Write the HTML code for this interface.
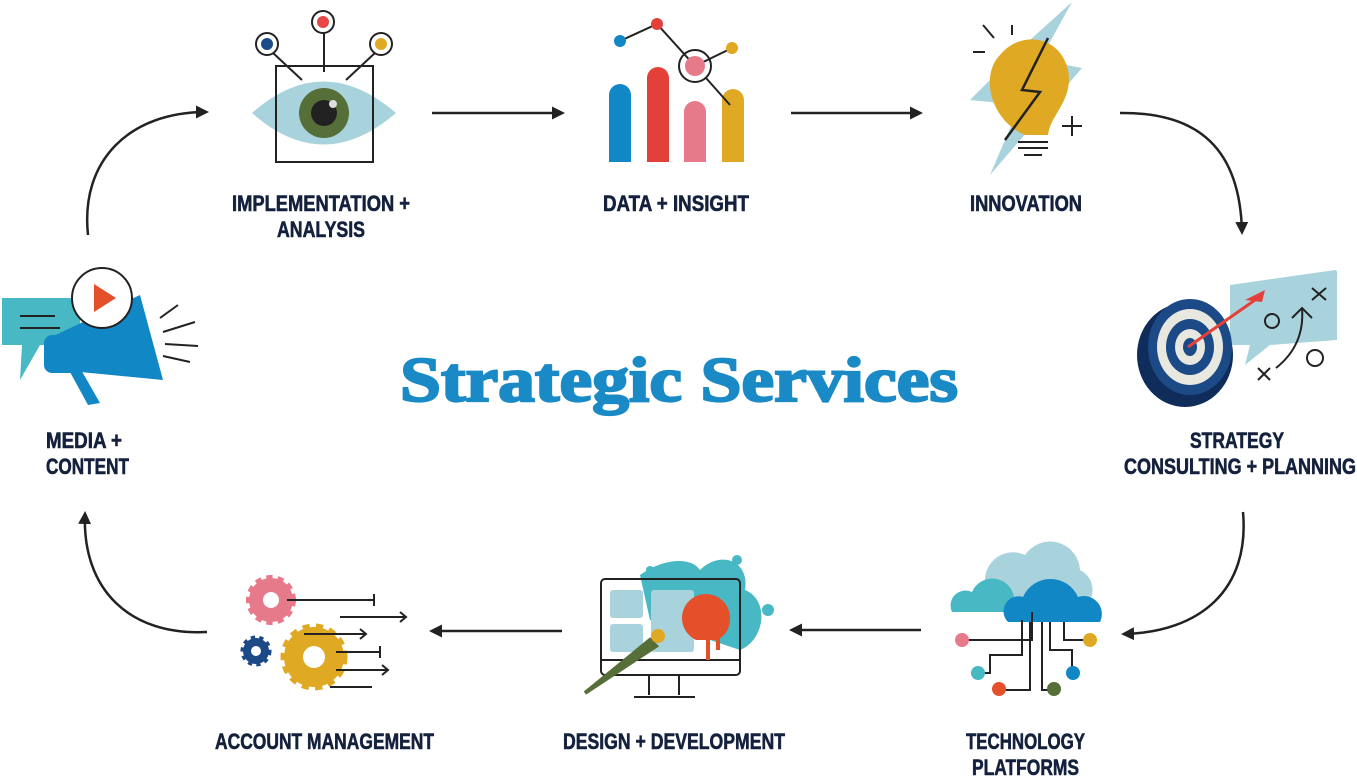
<!DOCTYPE html>
<html><head><meta charset="utf-8"><style>
html,body{margin:0;padding:0;background:#fff;width:1357px;height:783px;overflow:hidden}
.l{font-family:"Liberation Sans",sans-serif;font-weight:bold;font-size:22px;fill:#14213d;stroke:#14213d;stroke-width:0.6}
</style></head><body>
<svg width="1357" height="783" viewBox="0 0 1357 783" xmlns="http://www.w3.org/2000/svg">
<defs><marker id="a" markerWidth="13" markerHeight="13" refX="10" refY="6.5" orient="auto" markerUnits="userSpaceOnUse"><path d="M0,0 L13,6.5 L0,13 z" fill="#222"/></marker></defs>
<g stroke="#222" stroke-width="2.5" fill="none">
<path d="M88,235 C80,160 130,112 206,112" marker-end="url(#a)"/>
<path d="M432,113 L562,113" marker-end="url(#a)"/>
<path d="M791,113 L920,113" marker-end="url(#a)"/>
<path d="M1120,113 C1200,112 1240,150 1242,232" marker-end="url(#a)"/>
<path d="M1243,512 C1250,590 1200,632 1124,634" marker-end="url(#a)"/>
<path d="M921,630 L792,630" marker-end="url(#a)"/>
<path d="M562,631 L432,631" marker-end="url(#a)"/>
<path d="M207,632 C130,636 82,590 85,514" marker-end="url(#a)"/>
</g>
<!-- eye -->
<g>
<path d="M252,113 Q323,50 396,113 Q323,176 252,113z" fill="#a9d3dc"/>
<rect x="276" y="66" width="97" height="96" fill="none" stroke="#222" stroke-width="2"/>
<circle cx="324" cy="113" r="25" fill="#566e38"/><circle cx="324" cy="113" r="13" fill="#222"/>
<circle cx="333" cy="104" r="4" fill="#ddd"/>
<g stroke="#222" stroke-width="2"><line x1="324" y1="32" x2="324" y2="72"/><line x1="272" y1="52" x2="302" y2="80"/><line x1="376" y1="52" x2="346" y2="80"/></g>
<circle cx="267" cy="44" r="11" fill="#fff" stroke="#222" stroke-width="2"/><circle cx="267" cy="44" r="6" fill="#1b4a87"/>
<circle cx="323" cy="22" r="11" fill="#fff" stroke="#222" stroke-width="2"/><circle cx="323" cy="22" r="6" fill="#e84545"/>
<circle cx="381" cy="44" r="11" fill="#fff" stroke="#222" stroke-width="2"/><circle cx="381" cy="44" r="6" fill="#e0a923"/>
</g>
<!-- data bars -->
<g>
<path d="M609,162 V95 a11,11 0 0 1 22,0 V162z" fill="#1187c6"/>
<path d="M647,162 V78 a11,11 0 0 1 22,0 V162z" fill="#e4403a"/>
<path d="M684,162 V112 a11,11 0 0 1 22,0 V162z" fill="#e67a8a"/>
<path d="M722,162 V100 a11,11 0 0 1 22,0 V162z" fill="#e0a923"/>
<g stroke="#222" stroke-width="2" fill="none"><polyline points="620,41 657,24 695,66 732,48"/><circle cx="695" cy="66" r="16"/><line x1="706" y1="78" x2="730" y2="105"/></g>
<circle cx="695" cy="66" r="10" fill="#e67a8a"/>
<circle cx="620" cy="41" r="6" fill="#1187c6"/><circle cx="657" cy="24" r="6" fill="#e4403a"/><circle cx="732" cy="48" r="6" fill="#e0a923"/>
</g>
<!-- innovation -->
<g>
<polygon points="1072,2 1040,60 1082,68 990,175 1020,105 970,100 1030,40" fill="#a9d3dc"/>
<path d="M1025,135 C990,120 980,75 1000,55 C1020,30 1060,35 1068,70 C1074,100 1050,115 1048,135z" fill="#e0a923"/>
<path d="M1048,38 L1022,90 L1040,92 L1005,140" stroke="#222" stroke-width="2.5" fill="none"/>
<g stroke="#222" stroke-width="2"><line x1="1018" y1="142" x2="1048" y2="142"/><line x1="1018" y1="148" x2="1048" y2="148"/><line x1="1024" y1="155" x2="1042" y2="155"/>
<line x1="983" y1="25" x2="994" y2="38"/><line x1="1012" y1="25" x2="1012" y2="35"/><line x1="973" y1="52" x2="985" y2="52"/>
<line x1="1072" y1="116" x2="1072" y2="136"/><line x1="1062" y1="126" x2="1082" y2="126"/></g>
</g>
<!-- strategy -->
<g>
<path d="M1230,285 L1335,270 Q1338,270 1337,278 L1337,340 L1270,345 L1245,365 L1250,345 L1230,345z" fill="#a9d3dc"/>
<ellipse cx="1185" cy="355" rx="48" ry="52" fill="#0f2c5a"/>
<ellipse cx="1190" cy="347" rx="42" ry="48" fill="#1b4a87"/>
<ellipse cx="1190" cy="347" rx="33" ry="38" fill="#e8e8e0"/>
<ellipse cx="1190" cy="347" rx="24" ry="28" fill="#1b4a87"/>
<ellipse cx="1190" cy="347" rx="15" ry="18" fill="#e8e8e0"/>
<ellipse cx="1190" cy="347" rx="7" ry="9" fill="#1b4a87"/>
<line x1="1188" y1="347" x2="1255" y2="300" stroke="#e4403a" stroke-width="3"/>
<path d="M1245,300 L1265,290 L1262,302 z" fill="#e4403a"/>
<g stroke="#222" stroke-width="2" fill="none"><circle cx="1272" cy="321" r="7"/><circle cx="1315" cy="358" r="8"/>
<path d="M1276,368 Q1305,345 1302,308"/><path d="M1292,318 L1302,308 L1312,318"/>
<path d="M1312,288 L1326,300 M1326,288 L1312,300"/><path d="M1258,368 L1270,380 M1270,368 L1258,380"/></g>
</g>
<!-- cloud -->
<g>
<path d="M985,580 a28,28 0 0 1 40,-25 a30,30 0 0 1 55,15 a22,22 0 0 1 10,30 h-105z" fill="#a9d3dc"/>
<path d="M952,612 a15,15 0 0 1 20,-20 a22,22 0 0 1 42,5 a12,12 0 0 1 10,15z" fill="#47b8c4"/>
<path d="M1008,622 a15,15 0 0 1 15,-25 a30,30 0 0 1 55,0 a18,18 0 0 1 22,25z" fill="#1187c6"/>
<g stroke="#222" stroke-width="2" fill="none">
<polyline points="1032,612 1032,640 962,640"/><polyline points="1022,620 1022,655 990,655 990,673 978,673"/>
<polyline points="1030,622 1030,690 1000,690"/><polyline points="1042,622 1042,690 1054,690"/>
<polyline points="1050,622 1050,650 1072,650 1072,672"/><polyline points="1064,622 1064,640 1090,640"/></g>
<circle cx="962" cy="640" r="7" fill="#e67a8a"/><circle cx="978" cy="673" r="7" fill="#47b8c4"/><circle cx="999" cy="689" r="7" fill="#e4502a"/>
<circle cx="1054" cy="689" r="7" fill="#566e38"/><circle cx="1073" cy="673" r="7" fill="#1187c6"/><circle cx="1090" cy="640" r="7" fill="#e0a923"/>
</g>
<!-- design -->
<g>
<path d="M640,575 C660,560 690,555 700,570 C720,550 750,560 745,590 C770,600 765,640 740,650 L650,620z" fill="#47b8c4"/>
<circle cx="737" cy="560" r="5" fill="#47b8c4"/><circle cx="768" cy="610" r="6" fill="#47b8c4"/><circle cx="650" cy="570" r="4" fill="#47b8c4"/>
<rect x="601" y="579" width="139" height="96" rx="4" fill="none" stroke="#222" stroke-width="2"/>
<line x1="601" y1="660" x2="740" y2="660" stroke="#222" stroke-width="2"/>
<path d="M649,675 V695 M679,675 V695 M634,697 H695" stroke="#222" stroke-width="2"/>
<rect x="610" y="590" width="33" height="28" rx="3" fill="#a9d3dc"/><rect x="610" y="624" width="33" height="28" rx="3" fill="#a9d3dc"/>
<rect x="651" y="590" width="43" height="62" rx="3" fill="#a9d3dc"/>
<path d="M682,618 a24,24 0 0 1 48,0 c0,12 -6,18 -10,20 v12 h-4 v-10 h-6 v20 h-4 v-20 h-10 c-8,-4 -14,-12 -14,-22z" fill="#e4502a"/>
<path d="M585,693 L650,640 L656,646 z" fill="#566e38" stroke="#566e38" stroke-width="4"/>
<circle cx="658" cy="636" r="7" fill="#e0a923"/>
</g>
<!-- gears -->
<g>
<circle cx="271" cy="600" r="22" fill="#e67a8a" stroke="#e67a8a" stroke-width="6" stroke-dasharray="6 5"/><circle cx="271" cy="600" r="8" fill="#fff"/>
<circle cx="256" cy="651" r="13" fill="#1b4a87" stroke="#1b4a87" stroke-width="5" stroke-dasharray="4 4"/><circle cx="256" cy="651" r="5" fill="#fff"/>
<circle cx="314" cy="657" r="30" fill="#e0a923" stroke="#e0a923" stroke-width="7" stroke-dasharray="7 6"/><circle cx="314" cy="657" r="11" fill="#fff"/>
<g stroke="#222" stroke-width="2" fill="none">
<path d="M287,600 H374 M374,594 V606"/><path d="M340,617 H406 M400,612 L406,617 L400,622"/>
<path d="M304,634 H366 M360,629 L366,634 L360,639"/><path d="M336,652 H380 M380,646 V658"/>
<path d="M336,670 H388 M382,665 L388,670 L382,675"/><path d="M330,687 H372"/></g>
</g>
<!-- megaphone -->
<g>
<path d="M2,298 H80 V345 H40 L20,380 L22,345 H2z" fill="#47b8c4"/>
<path d="M20,316 H55 M20,328 H60" stroke="#222" stroke-width="2"/>
<path d="M45,340 L140,295 L163,380 L60,370z" fill="#1187c6"/>
<rect x="44" y="335" width="40" height="38" rx="8" fill="#1187c6"/>
<path d="M80,368 L100,403 L88,405 L70,372z" fill="#1187c6"/>
<circle cx="102" cy="298" r="30" fill="#fff" stroke="#222" stroke-width="2"/>
<path d="M94,284 L116,298 L94,312z" fill="#e4502a"/>
<g stroke="#222" stroke-width="2"><line x1="160" y1="318" x2="178" y2="305"/><line x1="163" y1="332" x2="195" y2="322"/><line x1="165" y1="344" x2="198" y2="346"/><line x1="163" y1="356" x2="190" y2="362"/></g>
</g>
<!-- labels -->
<text class="l" x="232" y="211" textLength="178" lengthAdjust="spacingAndGlyphs">IMPLEMENTATION +</text>
<text class="l" x="277" y="237" textLength="88" lengthAdjust="spacingAndGlyphs">ANALYSIS</text>
<text class="l" x="603" y="211" textLength="146" lengthAdjust="spacingAndGlyphs">DATA + INSIGHT</text>
<text class="l" x="970" y="211" textLength="112" lengthAdjust="spacingAndGlyphs">INNOVATION</text>
<text class="l" x="1190" y="448" textLength="94" lengthAdjust="spacingAndGlyphs">STRATEGY</text>
<text class="l" x="1124" y="474" textLength="232" lengthAdjust="spacingAndGlyphs">CONSULTING + PLANNING</text>
<text class="l" x="46" y="448" textLength="76" lengthAdjust="spacingAndGlyphs">MEDIA +</text>
<text class="l" x="46" y="474" textLength="83" lengthAdjust="spacingAndGlyphs">CONTENT</text>
<text class="l" x="215" y="749" textLength="219" lengthAdjust="spacingAndGlyphs">ACCOUNT MANAGEMENT</text>
<text class="l" x="563" y="749" textLength="222" lengthAdjust="spacingAndGlyphs">DESIGN + DEVELOPMENT</text>
<text class="l" x="966" y="749" textLength="119" lengthAdjust="spacingAndGlyphs">TECHNOLOGY</text>
<text class="l" x="972" y="775" textLength="107" lengthAdjust="spacingAndGlyphs">PLATFORMS</text>
<text x="400" y="401" textLength="558" lengthAdjust="spacingAndGlyphs" style="font-family:'Liberation Serif',serif;font-weight:bold;font-size:64px;fill:#1a8ac6;stroke:#1a8ac6;stroke-width:2.2">Strategic Services</text>
</svg>
</body></html>
